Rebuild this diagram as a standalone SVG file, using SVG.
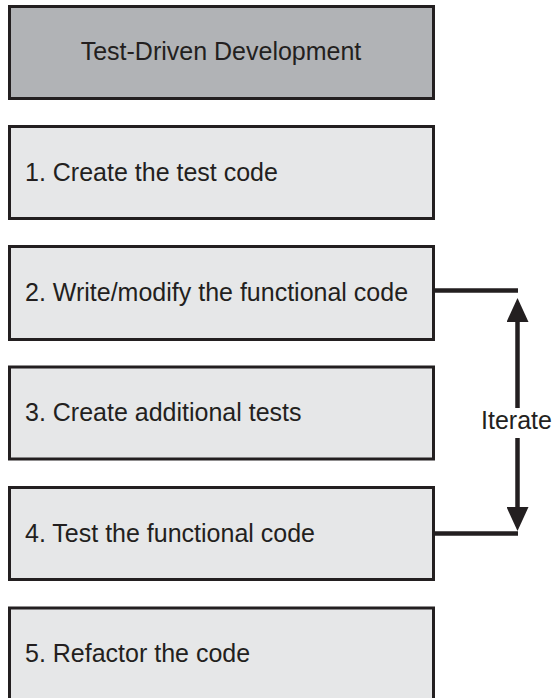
<svg xmlns="http://www.w3.org/2000/svg" width="555" height="698" viewBox="0 0 555 698">
<defs>
<style>
.box{stroke:#231f20;stroke-width:3}
.head{fill:#b1b3b6}
.step{fill:#e6e7e8}
.t{font-family:"Liberation Sans",Arial,sans-serif;font-size:25px;fill:#231f20}
.c{stroke:#231f20;stroke-width:4.5;fill:none}
</style>
<marker id="ah" viewBox="0 0 24 22" refX="14" refY="11" markerWidth="24" markerHeight="22" markerUnits="userSpaceOnUse" orient="auto">
<path d="M0,0 L24,11 L0,22 Z" fill="#231f20"/>
</marker>
</defs>
<rect width="555" height="698" fill="#ffffff"/>
<g id="header">
<rect class="box head" x="9.5" y="6.5" width="424" height="92"/>
<text class="t" x="221" y="60" text-anchor="middle">Test-Driven Development</text>
</g>
<g id="step1">
<rect class="box step" x="9.5" y="126.5" width="424" height="92"/>
<text class="t" x="25" y="181">1. Create the test code</text>
</g>
<g id="step2">
<rect class="box step" x="9.5" y="246.5" width="424" height="93"/>
<text class="t" x="25" y="301">2. Write/modify the functional code</text>
</g>
<g id="step3">
<rect class="box step" x="9.5" y="367" width="424" height="92"/>
<text class="t" x="25" y="421">3. Create additional tests</text>
</g>
<g id="step4">
<rect class="box step" x="9.5" y="487.5" width="424" height="92"/>
<text class="t" x="25" y="542">4. Test the functional code</text>
</g>
<g id="step5">
<rect class="box step" x="9.5" y="608" width="424" height="92"/>
<text class="t" x="25" y="662">5. Refactor the code</text>
</g>
<g id="connectors">
<path class="c" d="M435,290.5 H518"/>
<path class="c" d="M435,533.5 H518"/>
<path class="c" d="M517.5,408 V308" marker-end="url(#ah)"/>
<path class="c" d="M517.5,438 V521" marker-end="url(#ah)"/>
<text class="t" x="516.5" y="429" text-anchor="middle">Iterate</text>
</g>
</svg>
